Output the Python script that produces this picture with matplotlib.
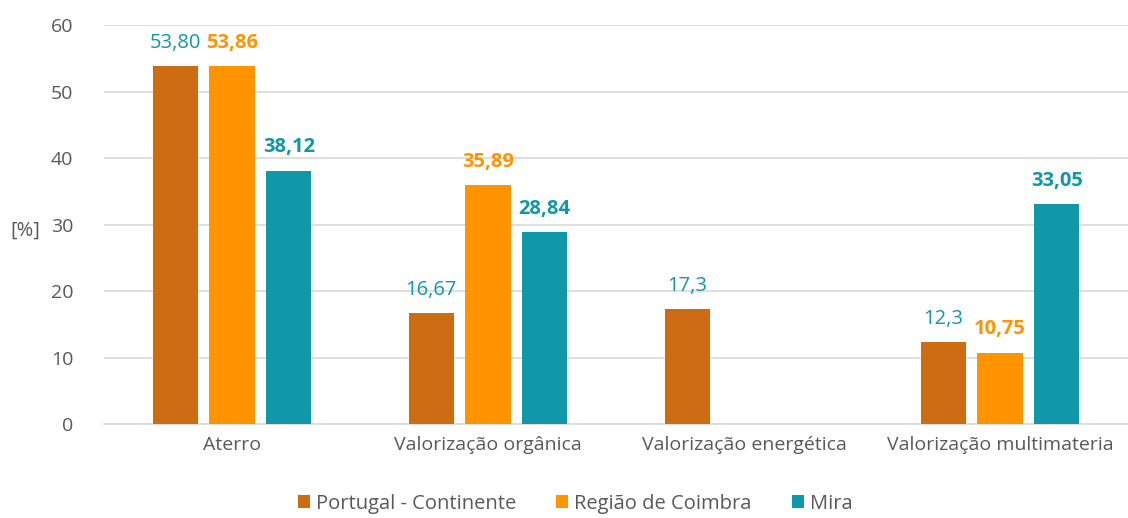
import numpy as np
import matplotlib.pyplot as plt

plt.rcParams['font.family'] = ['Open Sans', 'DejaVu Sans']

categorias = ['Aterro', 'Valorização orgânica', 'Valorização energética', 'Valorização multimateria']
portugal = [53.80, 16.67, 17.3, 12.3]
regiao = [53.86, 35.89, None, 10.75]
mira = [38.12, 28.84, None, 33.05]
rotulos_portugal = ['53,80', '16,67', '17,3', '12,3']
rotulos_regiao = ['53,86', '35,89', None, '10,75']
rotulos_mira = ['38,12', '28,84', None, '33,05']

c_port = '#CD6C12'
c_reg = '#FF9300'
c_mira = '#1097A8'
cinza = '#595959'

fig = plt.figure(figsize=(11.28, 5.18), dpi=100)
ax = fig.add_axes([0.0922, 0.1815, 0.9078, 0.770])

x = np.arange(len(categorias))
w = 0.176
off = 0.222

series = [
    (portugal, rotulos_portugal, -off, c_port, 'Portugal - Continente', c_mira, 'normal'),
    (regiao, rotulos_regiao, 0, c_reg, 'Região de Coimbra', c_reg, 'bold'),
    (mira, rotulos_mira, off, c_mira, 'Mira', c_mira, 'bold'),
]
for vals, rots, dx, cor, nome, cor_txt, peso in series:
    xs = [xi + dx for xi, v in zip(x, vals) if v is not None]
    vs = [v for v in vals if v is not None]
    ax.bar(xs, vs, width=w, color=cor, label=nome, zorder=3)
    for xi, v, r in zip(x, vals, rots):
        if v is None:
            continue
        ax.text(xi + dx, v + 2.0, r, ha='center', va='bottom', color=cor_txt,
                fontsize=14.5, fontweight=peso)

ax.set_ylim(0, 60)
ax.set_xlim(-0.5, 3.5)
ax.set_yticks(range(0, 61, 10))
ax.set_xticks(x)
ax.set_xticklabels(categorias)
ax.yaxis.grid(True, color='#d9d9d9', linewidth=1.2, zorder=0)
ax.set_axisbelow(True)
for s in ['top', 'right', 'left']:
    ax.spines[s].set_visible(False)
ax.spines['bottom'].set_color('#d9d9d9')
ax.spines['bottom'].set_linewidth(1.2)
ax.tick_params(axis='both', length=0, colors=cinza, labelsize=14)
ax.tick_params(axis='x', pad=9)
ax.tick_params(axis='y', pad=22)
ax.set_ylabel('[%]', rotation=0, color=cinza, fontsize=14.5)
ax.yaxis.set_label_coords(-0.077, 0.46)

fig.legend(loc='lower center', ncol=3, frameon=False, fontsize=14.5,
           bbox_to_anchor=(0.51, -0.027), handlelength=0.6, handleheight=0.6,
           handletextpad=0.3, columnspacing=2.0, labelcolor=cinza)

fig.savefig('out.png', dpi=100)
